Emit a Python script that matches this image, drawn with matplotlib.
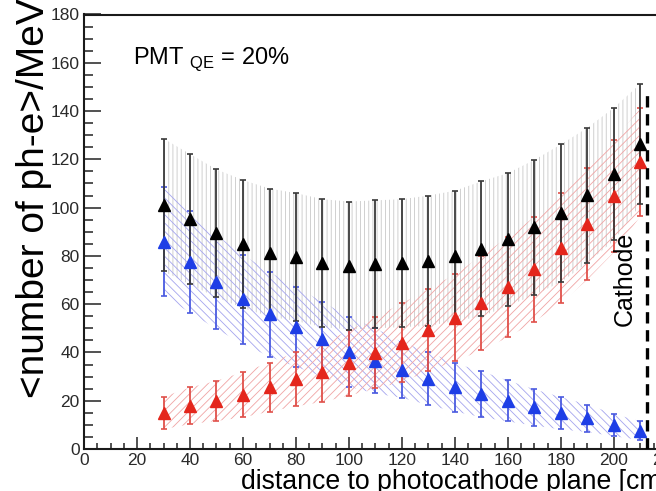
import matplotlib
matplotlib.use("Agg")
import matplotlib.pyplot as plt
from matplotlib.ticker import MultipleLocator
import numpy as np

plt.rcParams['font.family'] = ['Liberation Sans', 'DejaVu Sans']
plt.rcParams['mathtext.fontset'] = 'custom'
plt.rcParams['mathtext.rm'] = 'Liberation Sans'
plt.rcParams['hatch.linewidth'] = 0.6

# distance to the photocathode plane [cm]
distance = [30, 40, 50, 60, 70, 80, 90, 100, 110, 120,
            130, 140, 150, 160, 170, 180, 190, 200, 210]

# total light yield (black)
total_pe = [101.1, 95.2, 89.3, 84.9, 81.4, 79.5, 77.0, 76.0, 76.5, 77.0,
            78.0, 80.0, 82.9, 86.8, 91.8, 97.7, 105.1, 113.9, 126.3]
total_err = [27.5, 27.0, 26.5, 26.5, 26.5, 26.5, 26.5, 26.5, 26.5, 26.5,
             27.0, 27.0, 28.0, 27.5, 28.0, 28.5, 28.0, 27.5, 25.0]

# blue component
blue_pe = [85.9, 77.5, 69.2, 62.0, 55.8, 50.6, 45.4, 40.3, 36.5, 32.7,
           29.2, 25.5, 22.7, 19.9, 17.2, 14.8, 12.7, 9.9, 7.6]
blue_err = [22.5, 21.0, 19.5, 18.5, 17.5, 16.5, 15.5, 14.5, 13.5, 11.5,
            11.0, 10.0, 9.5, 8.5, 7.5, 6.7, 5.7, 4.6, 3.9]

# red component
red_pe = [14.9, 17.9, 19.9, 22.5, 25.6, 28.9, 31.7, 35.6, 39.9, 44.0,
          49.4, 54.3, 60.5, 67.0, 74.5, 83.2, 93.3, 104.7, 118.9]
red_err = [6.7, 7.6, 8.3, 9.4, 10.1, 11.2, 12.2, 13.5, 14.8, 16.3,
           17.0, 18.0, 19.6, 20.7, 21.7, 22.7, 23.1, 23.2, 22.4]

cathode_x = 212.5
cathode_top = 148

fig = plt.figure(figsize=(6.56, 4.91), dpi=100)
ax = fig.add_axes([84 / 656, 42 / 491, 583 / 656, 434.5 / 491])
ax.set_xlim(0, 220)
ax.set_ylim(0, 180)

series = [
    (total_pe, total_err, '#c8c8c8', '||||', '#000000', '#3a3a3a'),
    (blue_pe, blue_err, '#a4a4ee', '\\\\\\\\', '#1e3ee6', '#4a5ae0'),
    (red_pe, red_err, '#f0a4a4', '////', '#e4261c', '#e0504a'),
]

x = np.array(distance, dtype=float)
for vals, errs, hcol, hatch, mcol, ecol in series:
    v = np.array(vals)
    e = np.array(errs)
    ax.fill_between(x, v - e, v + e, facecolor='none', edgecolor=hcol,
                    linewidth=0, hatch=hatch, zorder=1)

for vals, errs, hcol, hatch, mcol, ecol in [series[1], series[2], series[0]]:
    ax.errorbar(distance, vals, yerr=errs, fmt='^', ms=8.5, color=mcol,
                mec=mcol, ecolor=ecol, elinewidth=1.3, capsize=2.5,
                capthick=1.2, zorder=3)

ax.vlines(cathode_x, 0, cathode_top, colors='black', linewidth=2.4,
          linestyles=(0, (3.4, 2.0)), zorder=4)
ax.text(204, 70.6, 'Cathode', rotation=90, ha='center', va='center',
        fontsize=18, color='black')

ax.text((133 - 84) / 583, 0.886, r'PMT $_{\mathregular{QE}}$ = 20%',
        transform=ax.transAxes, ha='left', va='baseline', fontsize=17)

ax.xaxis.set_major_locator(MultipleLocator(20))
ax.xaxis.set_minor_locator(MultipleLocator(5))
ax.yaxis.set_major_locator(MultipleLocator(20))
ax.yaxis.set_minor_locator(MultipleLocator(5))

ax.tick_params(which='both', direction='in', top=False, right=False,
               color='#222222', labelcolor='#2a2a2a')
ax.tick_params(axis='x', which='major', length=8.6, width=1.1, pad=3.0,
               labelsize=12.5)
ax.tick_params(axis='x', which='minor', length=4.3, width=1.1)
ax.tick_params(axis='y', which='major', length=12, width=1.1, pad=3,
               labelsize=12.5)
ax.tick_params(axis='y', which='minor', length=6.5, width=1.1)

for sp in ax.spines.values():
    sp.set_linewidth(1.5)
    sp.set_color('#1a1a1a')

fig.text(34 / 656, 1 + 2 / 491, '<number of ph-e>/MeV', rotation=90,
         ha='center', va='top', fontsize=28)
fig.text(241 / 656, 2 / 491, 'distance to photocathode plane [cm]',
         ha='left', va='baseline', fontsize=19.2)

fig.savefig('out.png', dpi=100)
